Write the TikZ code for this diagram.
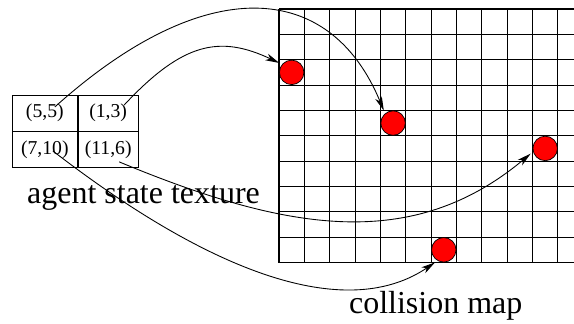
\documentclass[tikz,border=0pt]{standalone}
\usepackage{fontspec}
\setmainfont{Liberation Serif}
\usetikzlibrary{positioning,arrows.meta}

\begin{document}
\begin{tikzpicture}[x=0.02cm, y=-0.02cm,
    gridline/.style={line width=0.6pt},
    cell/.style={draw, line width=0.5pt, minimum height=0.72cm, inner sep=0pt, font=\fontsize{11.2}{13}\selectfont},
    ball/.style={circle, draw, fill=red, line width=0.4pt, minimum size=0.49cm, inner sep=0pt},
    link/.style={line width=0.5pt, -{Stealth[length=0.28cm, width=0.14cm, inset=0.08cm]}, shorten >=0.06cm},
    caption/.style={font=\fontsize{18.2}{20}\selectfont, anchor=base}]
                \useasboundingbox (0,0) rectangle (574,324);
                \foreach \c in {0,...,11}
                    \draw[gridline] ({279+25.35*\c},9) -- ({279+25.35*\c},262.5);
                \foreach \r in {0,...,10}
                    \draw[gridline] (279,{9+25.35*\r}) -- (574,{9+25.35*\r});
                \foreach \i/\j in {1/3,5/5,11/6,7/10}
                    \node[ball] (m\i\j) at ({279+25.35*(\i-0.5)},{9+25.35*(\j-0.5)}) {};
                \node[cell, minimum width=1.3cm] (c55) at (44.8,113) {(5,5)};
                \node[cell, minimum width=1.2cm, right=0pt of c55] (c13) {(1,3)};
                \node[cell, minimum width=1.3cm, below=0pt of c55] (c710) {(7,10)};
                \node[cell, minimum width=1.2cm, below=0pt of c13] (c116) {(11,6)};
                \node[caption] (texlabel) at (143.5,203) {agent state texture};
                \node[caption] (maplabel) at (435.7,313) {collision map};
                \coordinate (s55) at ([shift={(10,-6)}]c55.center);
                \coordinate (s13) at ([shift={(16,-8)}]c13.center);
                \coordinate (s710) at ([shift={(8,1)}]c710.center);
                \coordinate (s116) at ([shift={(11,12)}]c116.center);
                \draw[link] (s55) .. controls (205,-28) and (330,-20) .. (m55.130);
                \draw[link] (s13) .. controls (183,42) and (220,35) .. (m13.140);
                \draw[link] (s116) .. controls (288,232) and (413,252) .. (m116.195);
                \draw[link] (s710) .. controls (220,280) and (350,320) .. (m710.240);
            \end{tikzpicture}
\end{document}
